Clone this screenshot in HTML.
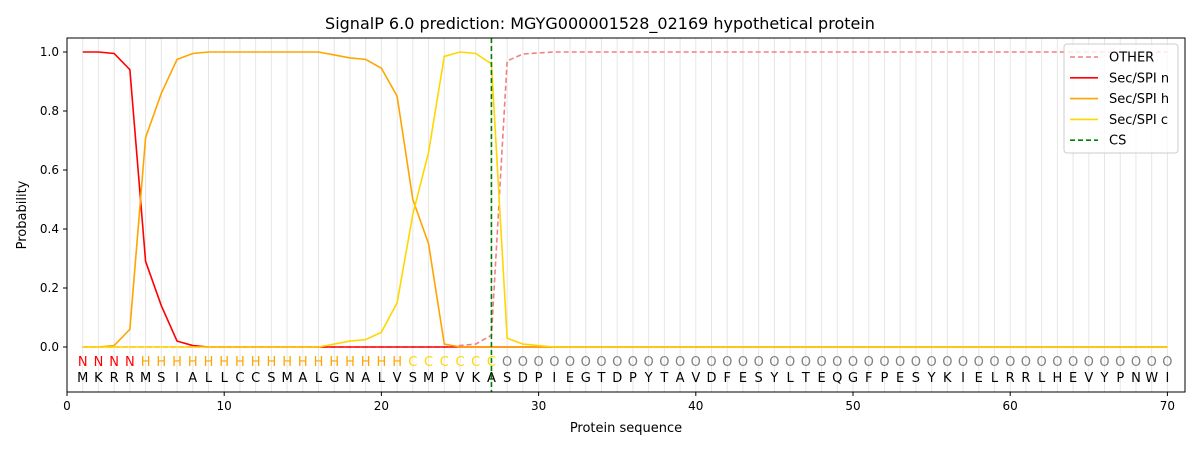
<!DOCTYPE html>
<html><head><meta charset="utf-8"><style>
body{margin:0;background:#fff}
svg text{font-family:"DejaVu Sans","Liberation Sans",sans-serif;fill:#000}
</style></head><body>
<svg id="s" width="1200" height="450" xmlns="http://www.w3.org/2000/svg"></svg>
<script>
const s=document.getElementById('s');
const X=v=>67+v*15.72, Y=p=>347-295*p;
let h='';
h+='<text x="600" y="29" font-size="16" text-anchor="middle">SignalP 6.0 prediction: MGYG000001528_02169 hypothetical protein</text>';
for(let i=1;i<=70;i++)h+=`<line x1="${X(i)}" x2="${X(i)}" y1="38" y2="392" stroke="#e6e6e6" stroke-width="1"/>`;
const seq="MKRRMSIALLCCSMALGNALVSMPVKASDPIEGTDPYTAVDFESYLTEQGFPESYKIELRRLHEVYPNWI";
for(let i=1;i<=70;i++){let lab,col;if(i<=4){lab='N';col='red'}else if(i<=21){lab='H';col='orange'}else if(i<=27){lab='C';col='#FFD700'}else{lab='O';col='gray'}
h+=`<text x="${X(i)}" y="366" font-size="13" text-anchor="middle" style="fill:${col}">${lab}</text>`;
h+=`<text x="${X(i)}" y="382" font-size="13" text-anchor="middle">${seq[i-1]}</text>`;}
function line(arr,col,dash){let p=[];for(let i=1;i<=70;i++){p.push(X(i)+','+Y(arr[i]||0))}return `<polyline points="${p.join(' ')}" fill="none" stroke="${col}" stroke-width="1.6" ${dash?'stroke-dasharray="5,3"':''}/>`}
const n={1:1,2:1,3:.995,4:.94,5:.29,6:.14,7:.02,8:.005};
const hh={3:.005,4:.06,5:.71,6:.86,7:.975,8:.995,17:.99,18:.98,19:.975,20:.945,21:.85,22:.5,23:.35,24:.01};for(let i=9;i<=16;i++)hh[i]=1;
const c={17:.01,18:.02,19:.025,20:.05,21:.15,22:.45,23:.66,24:.985,25:1,26:.995,27:.96,28:.03,29:.01,30:.005};
const o={25:.005,26:.01,27:.04,28:.97,29:.993,30:.997};for(let i=31;i<=70;i++)o[i]=1;
h+=line(o,'#F08080',true)+line(n,'red')+line(hh,'orange')+line(c,'#FFD700');
h+=`<line x1="${X(27)}" x2="${X(27)}" y1="38" y2="392" stroke="green" stroke-width="1.6" stroke-dasharray="5,3"/>`;
h+='<rect x="67" y="38" width="1118" height="354" fill="none" stroke="#000" stroke-width="1"/>';
for(let t=0;t<=70;t+=10){h+=`<line x1="${X(t)}" x2="${X(t)}" y1="392" y2="396" stroke="#000"/><text x="${X(t)}" y="410" font-size="12" text-anchor="middle">${t}</text>`}
for(let k=0;k<=5;k++){let p=k*0.2;h+=`<line x1="63" x2="67" y1="${Y(p)}" y2="${Y(p)}" stroke="#000"/><text x="59" y="${Y(p)+4}" font-size="12" text-anchor="end">${p.toFixed(1)}</text>`}
h+='<text x="626" y="432" font-size="13" text-anchor="middle">Protein sequence</text>';
h+='<text transform="translate(26,215) rotate(-90)" font-size="13" text-anchor="middle">Probability</text>';
h+='<rect x="1064" y="44" width="114" height="109" rx="3" fill="#fff" fill-opacity="0.8" stroke="#ccc"/>';
const L=[['OTHER','#F08080',1],['Sec/SPI n','red',0],['Sec/SPI h','orange',0],['Sec/SPI c','#FFD700',0],['CS','green',1]];
L.forEach((e,i)=>{let y=57+i*20.8;h+=`<line x1="1070" x2="1098" y1="${y}" y2="${y}" stroke="${e[1]}" stroke-width="1.6" ${e[2]?'stroke-dasharray="5,3"':''}/><text x="1109" y="${y+4.5}" font-size="13">${e[0]}</text>`});
s.innerHTML=h;
</script>
</body></html>
